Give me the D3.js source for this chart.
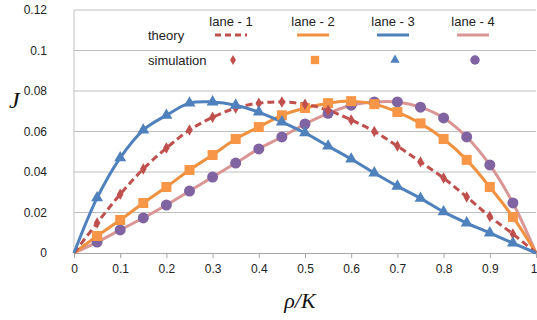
<!DOCTYPE html>
<html>
<head>
<meta charset="utf-8">
<script src="https://cdn.jsdelivr.net/npm/d3@7"></script>
<style>
  body { margin: 0; background: #fff; }
  svg { display: block; font-family: "Liberation Sans", Arial, sans-serif; }
</style>
</head>
<body>
<div id="chart"></div>
<script>
// density values rho/K, 0 .. 1 in steps of 0.05
const rho = [0, 0.05, 0.1, 0.15, 0.2, 0.25, 0.3, 0.35, 0.4, 0.45, 0.5,
  0.55, 0.6, 0.65, 0.7, 0.75, 0.8, 0.85, 0.9, 0.95, 1];
// flux J, one list per lane
const lane1 = [0, 0.0148, 0.029, 0.0415, 0.0518, 0.0607, 0.067, 0.0716, 0.074, 0.0746, 0.0735,
  0.0705, 0.0657, 0.060, 0.0528, 0.045, 0.037, 0.0277, 0.018, 0.0094, 0];
const lane2 = [0, 0.0084, 0.0163, 0.0247, 0.0326, 0.041, 0.0484, 0.0563, 0.0622, 0.068, 0.0716,
  0.074, 0.075, 0.0735, 0.0696, 0.064, 0.0563, 0.046, 0.0326, 0.0178, 0];
const lane3 = [0, 0.0272, 0.047, 0.0607, 0.068, 0.074, 0.0746, 0.073, 0.0696, 0.0647, 0.0593,
  0.0528, 0.0464, 0.0395, 0.033, 0.027, 0.0203, 0.0148, 0.0099, 0.0049, 0];
const lane4 = [0, 0.0054, 0.0114, 0.0173, 0.0237, 0.0306, 0.0375, 0.0444, 0.0514, 0.0573, 0.0637,
  0.069, 0.073, 0.0746, 0.0746, 0.072, 0.0667, 0.0573, 0.0435, 0.0247, 0];
const laneNames = ["lane - 1", "lane - 2", "lane - 3", "lane - 4"];
const xTicks = [0, 0.1, 0.2, 0.3, 0.4, 0.5, 0.6, 0.7, 0.8, 0.9, 1];
const yTicks = [0, 0.02, 0.04, 0.06, 0.08, 0.1, 0.12];

const width = 537, height = 320;
const svg = d3.select("#chart").append("svg").attr("width", width).attr("height", height);

const x = d3.scaleLinear().domain([0, 1]).range([74, 536]);
const y = d3.scaleLinear().domain([0, 0.12]).range([253, 10]);

// styles per lane
const lanes = [
  { vals: lane1, line: "#C0504D", dash: "7,4", mark: "#C0504D", sym: d3.symbolDiamond, size: 38, lsize: 30 },
  { vals: lane2, line: "#F0913F", dash: null, mark: "#F79646", sym: d3.symbolSquare, size: 100, lsize: 70 },
  { vals: lane3, line: "#4F81BD", dash: null, mark: "#4F81BD", sym: d3.symbolTriangle, size: 62, lsize: 38 },
  { vals: lane4, line: "#D99694", dash: null, mark: "#8064A2", sym: d3.symbolCircle, size: 95, lsize: 70 }
];

// horizontal gridlines
svg.append("g").selectAll("line").data(yTicks.slice(1)).join("line")
  .attr("x1", x(0)).attr("x2", x(1))
  .attr("y1", d => y(d)).attr("y2", d => y(d))
  .attr("stroke", "#BFBFBF").attr("stroke-width", 1);

// y axis line and labels
svg.append("line").attr("x1", x(0)).attr("x2", x(0)).attr("y1", y(0.12)).attr("y2", y(0))
  .attr("stroke", "#BFBFBF");
svg.append("g").selectAll("text").data(yTicks).join("text")
  .attr("x", 47).attr("y", d => y(d)).attr("dy", "0.35em")
  .attr("text-anchor", "end").attr("font-size", 12).attr("fill", "#222")
  .text(d => d3.format("~g")(d));

// x axis
const xAxis = svg.append("g").attr("transform", "translate(0," + y(0) + ")")
  .call(d3.axisBottom(x).tickValues(xTicks).tickSize(5).tickPadding(6).tickFormat(d3.format("~g")));
xAxis.select(".domain").attr("stroke", "#A6A6A6");
xAxis.selectAll(".tick line").attr("stroke", "#A6A6A6");
xAxis.selectAll(".tick text").attr("font-size", 12).attr("fill", "#222")
  .attr("font-family", "Liberation Sans, Arial, sans-serif");
// keep the last label inside the picture
xAxis.selectAll(".tick text").filter(d => d === 1).attr("text-anchor", "end").attr("x", 1);

// theory lines
const lineGen = d3.line().x((d, i) => x(rho[i])).y(d => y(d)).curve(d3.curveCatmullRom);
const drawOrder = [3, 1, 0, 2];
drawOrder.forEach(k => {
  const l = lanes[k];
  svg.append("path").datum(l.vals)
    .attr("fill", "none").attr("stroke", l.line).attr("stroke-width", 3)
    .attr("stroke-dasharray", l.dash).attr("d", lineGen);
});

// simulation markers (interior points)
drawOrder.forEach(k => {
  const l = lanes[k];
  svg.append("g").selectAll("path").data(l.vals.slice(1, 20)).join("path")
    .attr("transform", (d, i) => "translate(" + x(rho[i + 1]) + "," + y(d) + ")")
    .attr("d", d3.symbol().type(l.sym).size(l.size))
    .attr("fill", l.mark);
});

// legend
const leg = svg.append("g").attr("font-size", 13).attr("fill", "#222");
leg.append("text").attr("x", 148).attr("y", 35).attr("dy", "0.35em").text("theory");
leg.append("text").attr("x", 148).attr("y", 60).attr("dy", "0.35em").text("simulation");
const legX = [231, 313, 393, 473];
lanes.forEach((l, i) => {
  leg.append("text").attr("x", legX[i]).attr("y", 21).attr("dy", "0.35em")
    .attr("text-anchor", "middle").text(laneNames[i]);
  leg.append("line").attr("x1", legX[i] - 16).attr("x2", legX[i] + 16)
    .attr("y1", 35).attr("y2", 35)
    .attr("stroke", l.line).attr("stroke-width", 3).attr("stroke-dasharray", l.dash ? "6,4" : null);
  leg.append("path").attr("transform", "translate(" + (legX[i] + 2) + ",60)")
    .attr("d", d3.symbol().type(l.sym).size(l.lsize)).attr("fill", l.mark);
});

// axis titles
svg.append("text").attr("x", 9).attr("y", 108)
  .attr("font-family", "Liberation Serif, Times New Roman, serif").attr("font-style", "italic")
  .attr("font-size", 24).attr("fill", "#111").text("J");
svg.append("text").attr("x", 300).attr("y", 308).attr("text-anchor", "middle")
  .attr("font-family", "Liberation Serif, Times New Roman, serif").attr("font-style", "italic")
  .attr("font-size", 22).attr("fill", "#111").text("ρ/K");
</script>
</body>
</html>
